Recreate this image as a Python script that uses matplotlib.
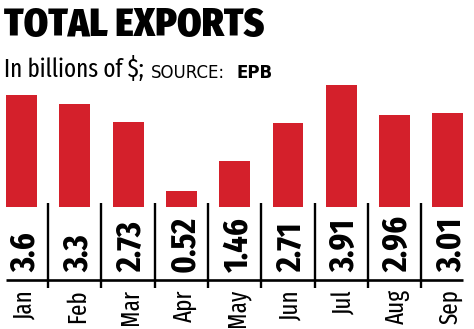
import matplotlib

matplotlib.use("Agg")

import matplotlib.pyplot as plt
import numpy as np
from matplotlib.transforms import blended_transform_factory

months = ["Jan", "Feb", "Mar", "Apr", "May", "Jun", "Jul", "Aug", "Sep"]
exports = [3.6, 3.3, 2.73, 0.52, 1.46, 2.71, 3.91, 2.96, 3.01]
value_labels = ["3.6", "3.3", "2.73", "0.52", "1.46", "2.71", "3.91", "2.96", "3.01"]

W, H = 474, 329
RED = "#d4202b"
COND = "Fira Sans Extra Condensed"
HEAD = "Fira Sans Condensed"

fig = plt.figure(figsize=(W / 100, H / 100), dpi=100)
ax = fig.add_axes([0, 0, 1, 1])
ax.axis("off")

# one category step is ~53.3 px, bar baseline sits ~207 px from the top
step = 53.3
ax.set_xlim(-21.5 / step, (W - 21.5) / step)
unit = 31.05
ax.set_ylim(-(H - 206.7) / unit, 206.7 / unit)

x = np.arange(len(months))
bar_w = 0.58
ax.bar(x, exports, width=bar_w, color=RED, linewidth=0)

# x in data units, y in pixels measured from the top edge
trans = blended_transform_factory(ax.transData, fig.transFigure)


def fy(px):
    return 1 - px / H


# table rules under the bars
ax.plot([x[0] - bar_w / 2, x[-1] + bar_w / 2], [fy(279.5)] * 2,
        color="black", lw=1.9, transform=trans, solid_capstyle="butt")
for sep in x[:-1] + 0.5:
    ax.plot([sep, sep], [fy(203), fy(287.5)], color="black", lw=1.7,
            transform=trans, solid_capstyle="butt")

for xi, lab, mon in zip(x, value_labels, months):
    ax.text(xi, fy(272), lab, rotation=90, rotation_mode="anchor",
            ha="left", va="center_baseline", fontsize=25, fontweight="bold",
            family=COND, color="black", transform=trans)
    ax.text(xi, fy(289), mon, rotation=90, rotation_mode="anchor",
            ha="right", va="center_baseline", fontsize=18, family=COND,
            color="black", transform=trans)

fig.text(4 / W, fy(36), "TOTAL EXPORTS", fontsize=28, fontweight=900,
         family=HEAD, va="baseline", ha="left")
fig.text(4 / W, fy(77), "In billions of $;", fontsize=18,
         family=COND, va="baseline", ha="left")
fig.text(151 / W, fy(78), "SOURCE:", fontsize=12, family="DejaVu Sans",
         va="baseline", ha="left")
fig.text(236 / W, fy(78), "EPB", fontsize=12, fontweight="bold",
         family="DejaVu Sans", va="baseline", ha="left")

fig.savefig("out.png", dpi=100)
